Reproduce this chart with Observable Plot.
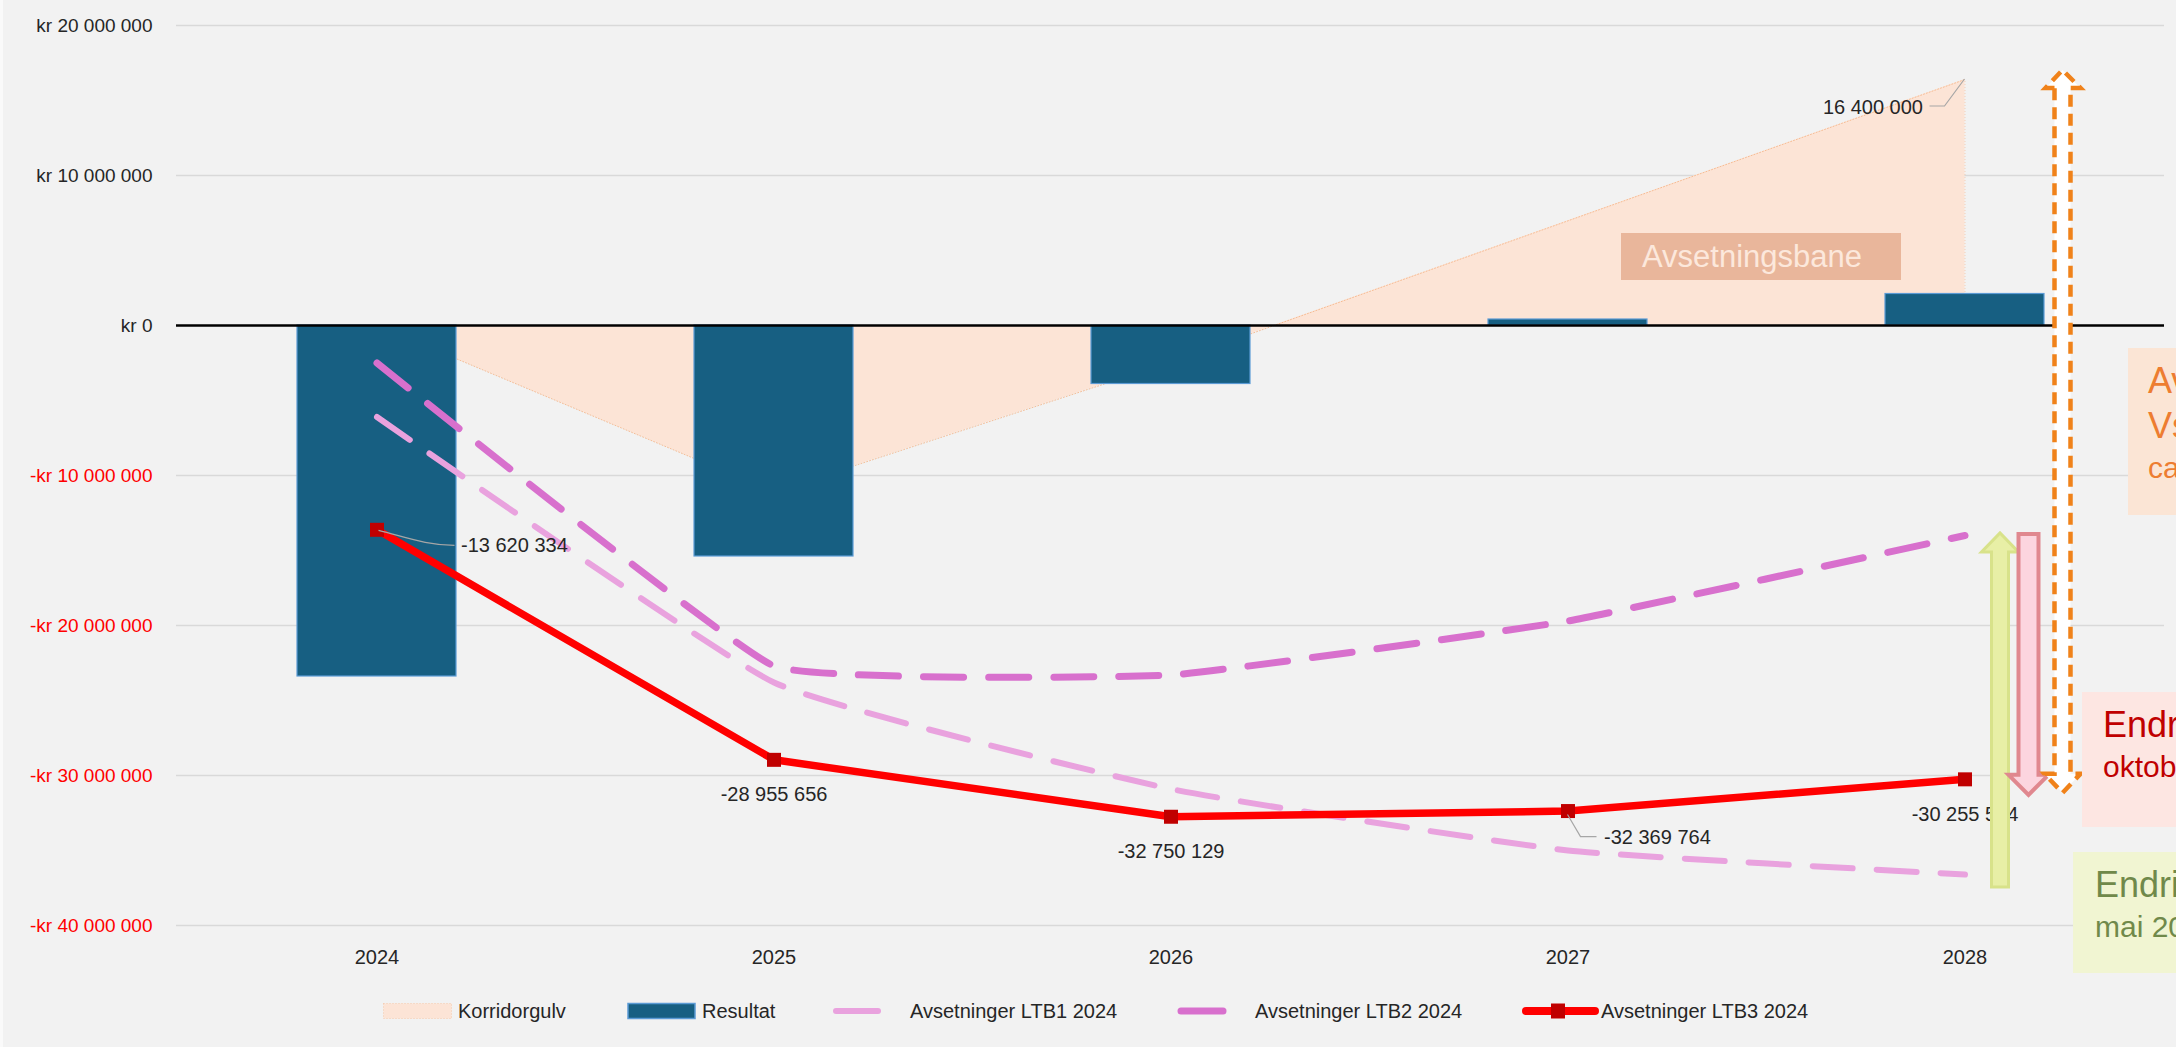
<!DOCTYPE html>
<html>
<head>
<meta charset="utf-8">
<script src="https://cdn.jsdelivr.net/npm/d3@7"></script>
<script src="https://cdn.jsdelivr.net/npm/@observablehq/plot@0.6"></script>
<style>
  html, body { margin: 0; padding: 0; background: #f2f2f2; width: 2176px; height: 1047px; overflow: hidden; }
  body { font-family: "Liberation Sans", Arial, sans-serif; color: #262626; }
  #wrap { position: relative; width: 2176px; height: 1047px; }
  #wrap > svg { position: absolute; left: 0; top: 0; }
  .abs { position: absolute; white-space: nowrap; }
  .leg { position: absolute; font-size: 20px; line-height: 20px; top: 1001px; white-space: nowrap; }
</style>
</head>
<body>
<div id="wrap"></div>
<script>
// ---- data ----
const years = ["2024", "2025", "2026", "2027", "2028"];
const korridorgulv = [0, -11100000, -2450000, 6980000, 16400000];
const resultat = [-23400000, -15400000, -3900000, 400000, 2100000];
const ltb1 = [-6100000, -23800000, -30900000, -35000000, -36600000];
const ltb2 = [-2500000, -22700000, -23300000, -19700000, -14000000];
const ltb3 = [-13620334, -28955656, -32750129, -32369764, -30255574];
const yTicks = [20000000, 10000000, 0, -10000000, -20000000, -30000000, -40000000];
const seriesNames = ["Korridorgulv", "Resultat", "Avsetninger LTB1 2024", "Avsetninger LTB2 2024", "Avsetninger LTB3 2024"];

const rows = years.map((year, i) => ({
  year, korr: korridorgulv[i], res: resultat[i], l1: ltb1[i], l2: ltb2[i], l3: ltb3[i]
}));

const FONT = '"Liberation Sans", Arial, sans-serif';
const loc = d3.formatLocale({decimal: ",", thousands: " ", grouping: [3], currency: ["", ""], minus: "-"});
const fmt = loc.format(",d");
const tickFmt = v => v === 0 ? "kr 0" : (v < 0 ? "-kr " : "kr ") + fmt(Math.abs(v));

const C = {
  korr: "#fce4d6", korrEdge: "#f4b183", bar: "#175f82", barEdge: "#5b9bd5",
  l1: "#e9a2de", l2: "#d870cd", l3: "#ff0000", mark: "#c00000", grid: "#d9d9d9"
};

const plot = Plot.plot({
  width: 2176, height: 985,
  marginTop: 25, marginBottom: 60, marginLeft: 176, marginRight: 12,
  style: {background: "transparent", fontFamily: FONT, fontSize: "20px", color: "#262626", overflow: "visible"},
  x: {type: "band", domain: years, padding: 0, tickSize: 0, tickPadding: 24, label: null},
  y: {domain: [-40000000, 20000000], axis: null},
  marks: [
    Plot.ruleY(yTicks.filter(d => d !== 0), {stroke: C.grid, strokeWidth: 1.6}),
    Plot.text(yTicks, {y: d => d, frameAnchor: "left", textAnchor: "end", dx: -24, text: tickFmt,
      fill: d => d < 0 ? "#ff0000" : "#262626", fontSize: 19}),
    Plot.areaY(rows, {x: "year", y: "korr", fill: C.korr}),
    Plot.line(rows, {x: "year", y: "korr", stroke: C.korrEdge, strokeWidth: 1, strokeDasharray: "1,2", strokeOpacity: 0.8}),
    Plot.ruleX(rows, {filter: d => d.year === "2028", x: "year", y1: 0, y2: "korr", stroke: C.korrEdge, strokeWidth: 1, strokeDasharray: "1,2", strokeOpacity: 0.5}),
    Plot.barY(rows, {x: "year", y: "res", fill: C.bar, stroke: C.barEdge, strokeWidth: 1.2, insetLeft: 119, insetRight: 119}),
    Plot.ruleY([0], {stroke: "#000000", strokeWidth: 2.6}),
    Plot.line(rows, {x: "year", y: "l1", stroke: C.l1, strokeWidth: 6, strokeDasharray: "40,24", strokeLinecap: "round", curve: "cardinal", tension: 0.6}),
    Plot.line(rows, {x: "year", y: "l2", stroke: C.l2, strokeWidth: 7, strokeDasharray: "40,25", strokeLinecap: "round", curve: "cardinal", tension: 0.7}),
    Plot.line(rows, {x: "year", y: "l3", stroke: C.l3, strokeWidth: 7.5, strokeLinejoin: "round"}),
    Plot.dot(rows, {x: "year", y: "l3", symbol: "square", r: 7.9, fill: C.mark}),
    Plot.text(rows, {filter: d => d.year === "2024", x: "year", y: "l3", text: d => fmt(d.l3), textAnchor: "start", dx: 84, dy: 16}),
    Plot.text(rows, {filter: d => d.year === "2025" || d.year === "2026" || d.year === "2028", x: "year", y: "l3", text: d => fmt(d.l3), dy: 35}),
    Plot.text(rows, {filter: d => d.year === "2027", x: "year", y: "l3", text: d => fmt(d.l3), textAnchor: "start", dx: 36, dy: 27}),
    Plot.text(rows, {filter: d => d.year === "2028", x: "year", y: "korr", text: d => fmt(d.korr), textAnchor: "end", dx: -42, dy: 28})
  ]
});

const wrap = document.getElementById("wrap");
wrap.appendChild(plot);

// ---- annotations positioned from the chart's scales ----
const sx = plot.scale("x"), sy = plot.scale("y");
const cx = y => sx.apply(y) + sx.bandwidth / 2;
const c24 = cx("2024"), c27 = cx("2027"), c28 = cx("2028");
const yL1 = sy.apply(ltb1[4]), yL2 = sy.apply(ltb2[4]), yL3 = sy.apply(ltb3[4]), yK = sy.apply(korridorgulv[4]);
const y24 = sy.apply(ltb3[0]), y27 = sy.apply(ltb3[3]);

const NS = "http://www.w3.org/2000/svg";
const ov = document.createElementNS(NS, "svg");
ov.setAttribute("width", 2176); ov.setAttribute("height", 1047);
ov.style.position = "absolute"; ov.style.left = "0"; ov.style.top = "0";
function path(d, attrs) {
  const p = document.createElementNS(NS, "path");
  p.setAttribute("d", d);
  for (const k in attrs) p.setAttribute(k, attrs[k]);
  ov.appendChild(p);
}
// leader lines
path(`M${c24 + 2},${y24 + 1} C${c24 + 30},${y24 + 8} ${c24 + 50},${y24 + 16} ${c24 + 78},${y24 + 16}`, {fill: "none", stroke: "#a6a6a6", "stroke-width": 1.2});
path(`M${c27},${y27 + 4} L${c27 + 13},${y27 + 26} L${c27 + 29},${y27 + 26}`, {fill: "none", stroke: "#a6a6a6", "stroke-width": 1.2});
path(`M${c28},${yK} L${c28 - 20},${yK + 27} L${c28 - 35},${yK + 27}`, {fill: "none", stroke: "#a6a6a6", "stroke-width": 1.2});

// green up arrow
{
  const gx = c28 + 35.5, top = yL2 - 2, hb = top + 19, bot = yL1 + 13;
  path(`M${gx - 8.5},${bot} L${gx - 8.5},${hb} L${gx - 18.5},${hb} L${gx},${top} L${gx + 18.5},${hb} L${gx + 8.5},${hb} L${gx + 8.5},${bot} Z`,
    {fill: "#e8efa6", stroke: "#d8e28a", "stroke-width": 3});
}
// pink down arrow
{
  const px = c28 + 64, top = yL2 - 1, tip = yL3 + 16, hb = tip - 20;
  path(`M${px - 10},${top} L${px + 10},${top} L${px + 10},${hb} L${px + 20},${hb} L${px},${tip} L${px - 20},${hb} L${px - 10},${hb} Z`,
    {fill: "#fcd5df", stroke: "#e0888f", "stroke-width": 4});
}
// orange dashed double arrow
{
  const ox = c28 + 98, top = yK - 9, hb1 = top + 18, tip = yL3 + 14, hb2 = tip - 19;
  path(`M${ox - 8},${hb1} L${ox - 17},${hb1} L${ox},${top} L${ox + 18},${hb1} L${ox + 8},${hb1} L${ox + 8},${hb2} L${ox + 18},${hb2} L${ox},${tip} L${ox - 18},${hb2} L${ox - 8},${hb2} Z`,
    {fill: "#ffffff", stroke: "#f0821a", "stroke-width": 4.5, "stroke-dasharray": "12,7"});
}
wrap.appendChild(ov);

// text boxes
function box(left, top, w, h, bg) {
  const d = document.createElement("div");
  d.className = "abs";
  Object.assign(d.style, {left: left + "px", top: top + "px", width: w + "px", height: h + "px", background: bg});
  wrap.appendChild(d);
  return d;
}
function line(txt, left, baseline, size, color) {
  const d = document.createElement("div");
  d.className = "abs";
  d.textContent = txt;
  Object.assign(d.style, {left: left + "px", top: (baseline - 0.846 * size) + "px", fontSize: size + "px", lineHeight: size + "px", color});
  wrap.appendChild(d);
}
{
  const b = box(1621, 233, 280, 47, "#e9b69b");
  b.textContent = "Avsetningsbane";
  Object.assign(b.style, {fontSize: "31px", lineHeight: "47px", color: "#fce8dc", paddingLeft: "21px", boxSizing: "border-box"});
}
box(2128, 348, 80, 167, "#fbe5d5");
line("Av", 2148, 393, 36, "#ed7d31");
line("Vs", 2148, 438, 36, "#ed7d31");
line("ca", 2148, 478, 30, "#ed7d31");
box(2082, 692, 120, 135, "#fde6e2");
line("Endring", 2103, 737, 36, "#c00000");
line("oktober 2024", 2103, 777, 30, "#c00000");
box(2073, 852, 120, 121, "#f1f5d2");
line("Endring", 2095, 897, 36, "#70894a");
line("mai 2024", 2095, 937, 30, "#70894a");

// legend
function legSvg(left, w, inner) {
  const d = document.createElement("div");
  d.className = "abs";
  Object.assign(d.style, {left: left + "px", top: "1001px", width: w + "px", height: "20px"});
  d.innerHTML = `<svg width="${w}" height="20" style="overflow:visible">${inner}</svg>`;
  wrap.appendChild(d);
}
function legText(txt, left) {
  const d = document.createElement("div");
  d.className = "leg"; d.textContent = txt; d.style.left = left + "px";
  wrap.appendChild(d);
}
legSvg(383, 69, `<rect x="0.5" y="2.5" width="68" height="15" fill="${C.korr}" stroke="${C.korrEdge}" stroke-width="1" stroke-dasharray="1,2" stroke-opacity="0.6"/>`);
legText(seriesNames[0], 458);
legSvg(627, 69, `<rect x="1" y="2.5" width="67" height="15" fill="${C.bar}" stroke="${C.barEdge}" stroke-width="1.5"/>`);
legText(seriesNames[1], 702);
legSvg(830, 80, `<line x1="6" y1="10" x2="73" y2="10" stroke="${C.l1}" stroke-width="6" stroke-linecap="round" stroke-dasharray="42,25"/>`);
legText(seriesNames[2], 910);
legSvg(1175, 80, `<line x1="6" y1="10" x2="73" y2="10" stroke="${C.l2}" stroke-width="7" stroke-linecap="round" stroke-dasharray="42,25"/>`);
legText(seriesNames[3], 1255);
legSvg(1518, 82, `<line x1="8" y1="10" x2="77" y2="10" stroke="${C.l3}" stroke-width="8" stroke-linecap="round"/><rect x="33" y="2.5" width="14" height="15" fill="${C.mark}"/>`);
legText(seriesNames[4], 1601);

// thin light strip at the left edge
box(0, 0, 3, 1047, "#fafafa");
</script>
</body>
</html>
